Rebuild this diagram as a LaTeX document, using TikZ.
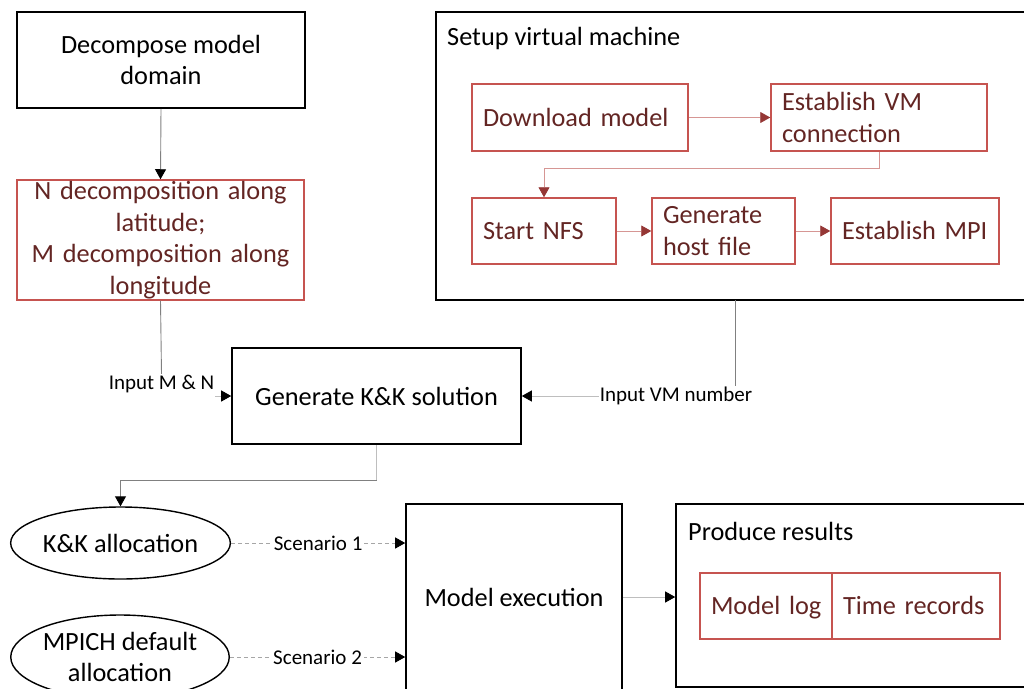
\documentclass[tikz,border=0pt]{standalone}
\usepackage{fontspec}
\setmainfont{Carlito}
\usetikzlibrary{arrows.meta,shapes.geometric,calc}
\definecolor{redline}{RGB}{198,84,80}
\definecolor{redtext}{RGB}{99,37,35}
\definecolor{redtip}{RGB}{149,55,53}
\definecolor{redconn}{RGB}{214,150,148}
\definecolor{conngray}{RGB}{128,128,128}
\definecolor{connlight}{RGB}{190,190,190}
% invisible rule that centres a single line of capitals in its box
\newcommand\linestrut{\rule[-7pt]{0pt}{31pt}}
\tikzset{
  main/.style={font=\fontsize{26.3}{31.5}\selectfont},
  lbl/.style={font=\fontsize{21}{24}\selectfont, inner sep=1pt},
  blackbox/.style={main, draw=black, line width=1.6pt, align=center, inner sep=0pt},
  redbox/.style={main, draw=redline, line width=1.5pt, text=redtext, align=left, inner xsep=11pt, inner ysep=0pt},
  frame/.style={draw=black, line width=1.6pt, inner sep=0pt},
  oval/.style={main, draw=black, line width=1.4pt, ellipse, align=center, inner sep=0pt},
  blacktip/.style={-{Triangle[length=10pt,width=11pt,color=black]}},
  redtipped/.style={draw=redconn, line width=0.9pt, -{Triangle[length=10pt,width=11pt,color=redtip]}},
  conn/.style={draw=conngray, line width=0.9pt},
  lightconn/.style={draw=connlight, line width=0.9pt},
  dashconn/.style={draw=gray!70, line width=0.9pt, dashed, dash pattern=on 4pt off 3pt},
}
\begin{document}
\begin{tikzpicture}[x=1pt,y=-1pt]
\useasboundingbox (0,0) rectangle (1024,688);
\clip (0,0) rectangle (1024,688);

% left column: domain decomposition
\node[blackbox, minimum width=288pt, minimum height=96pt] (decomp) at (161,60) {Decompose model\\domain};
\node[redbox, align=center, minimum width=287pt, text width=265pt, minimum height=120pt] (ndec) at (160.5,240)
  {N decomposition along\\latitude;\\M decomposition along\\longitude};

% virtual machine setup group
\node[frame, minimum width=594pt, minimum height=288pt] (setup) at (733,156) {};
\node[main, anchor=west, inner sep=0pt] (setuptitle) at (447,38) {Setup virtual machine};
\node[redbox, minimum width=216pt, text width=194pt, minimum height=67pt] (dl) at (580,117.5) {\linestrut Download model};
\node[redbox, minimum width=216pt, text width=194pt, minimum height=67pt] (evm) at (879,117.5) {Establish VM\\connection};
\node[redbox, minimum width=144pt, text width=122pt, minimum height=66pt] (nfs) at (544,231) {\linestrut Start NFS};
\node[redbox, minimum width=143pt, text width=121pt, minimum height=66pt] (ghf) at (723.5,231) {Generate\\host file};
\node[redbox, minimum width=168pt, text width=146pt, minimum height=66pt] (mpi) at (915,231) {\linestrut\mbox{Establish MPI}};

\draw[redtipped] (dl.east) -- (evm.west);
\draw[redtipped] (evm.south) -- ++(0,17) -| (nfs.north);
\draw[redtipped] (nfs.east) -- (ghf.west);
\draw[redtipped] (ghf.east) -- (mpi.west);

% solution generation
\node[blackbox, minimum width=289pt, minimum height=96pt] (gen) at (376.5,396) {Generate K\&K solution};

\draw[conn, blacktip] (decomp.south) -- (ndec.north);

\node[lbl] (inMN) at (161.5,384) {Input M \& N};
\draw[conn] (ndec.south) -- (inMN.north);
\draw[lightconn, blacktip] (inMN.east |- gen.west) -- (gen.west);

\coordinate (vmtap) at (735,300);
\node[lbl] (inVM) at (676,396) {Input VM number};
\draw[conn] (vmtap) -- (vmtap |- inVM.north);
\draw[lightconn, blacktip] (inVM.west) -- (gen.east);

% allocation scenarios
\node[oval, minimum width=219pt, minimum height=72pt] (kk) at (120.5,543) {K\&K allocation};
\node[oval, minimum width=216pt, minimum height=84pt] (mpich) at (120,657) {MPICH default\\allocation};

\coordinate (genbend) at (376.5,480);
\draw[lightconn] (gen.south) -- (genbend);
\draw[conn, blacktip] (genbend) -| (kk.north);

% execution and results
\node[blackbox, minimum width=216pt, minimum height=186pt] (exec) at (514,597) {Model execution};
\node[frame, minimum width=354pt, minimum height=183pt] (prod) at (853,595.5) {};
\node[main, anchor=west, inner sep=0pt] (prodtitle) at (688,531) {Produce results};
\node[redbox, minimum width=132pt, text width=110pt, minimum height=66pt] (mlog) at (766,606) {\linestrut\mbox{Model log}};
\node[redbox, minimum width=168pt, text width=146pt, minimum height=66pt] (trec) at (916,606) {\linestrut\mbox{Time records}};

\draw[dashconn, blacktip] (kk.east) -- node[lbl, fill=white, inner xsep=2pt] (sc1) {Scenario 1} (kk.east -| exec.west);
\draw[dashconn, blacktip] (mpich.east) -- node[lbl, fill=white, inner xsep=2pt] (sc2) {Scenario 2} (mpich.east -| exec.west);
\draw[lightconn, blacktip] (exec.east) -- (exec.east -| prod.west);
\end{tikzpicture}
\end{document}
